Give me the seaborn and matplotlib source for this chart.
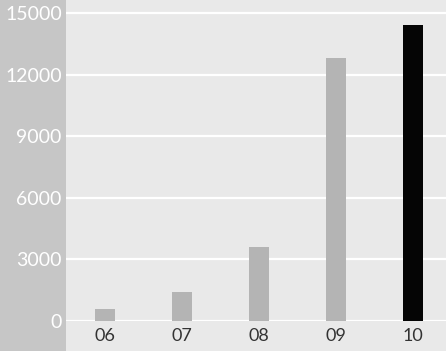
import matplotlib
matplotlib.use("Agg")
import matplotlib.pyplot as plt
import seaborn as sns
import pandas as pd

years = ["06", "07", "08", "09", "10"]
values = [600, 1400, 3600, 12800, 14400]
bar_colors = ["#b4b4b4", "#b4b4b4", "#b4b4b4", "#b4b4b4", "#050505"]
y_ticks = [0, 3000, 6000, 9000, 12000, 15000]

sns.set_theme(style="white")
plt.rcParams["font.family"] = ["Lato", "DejaVu Sans"]

df = pd.DataFrame({"year": years, "value": values})

fig = plt.figure(figsize=(4.46, 3.51), dpi=100, facecolor="#e9e9e9")

# darker strip behind the value axis
strip = plt.Rectangle((0, 0), 66 / 446, 1, transform=fig.transFigure,
                      facecolor="#c6c6c6", edgecolor="none", zorder=-5)
fig.patches.append(strip)

ax = fig.add_axes([66 / 446, 30 / 351, 380 / 446, 321 / 351])
ax.set_facecolor("none")
ax.set_zorder(1)

sns.barplot(data=df, x="year", y="value", hue="year", palette=bar_colors,
            width=0.26, legend=False, ax=ax, saturation=1, linewidth=0)

ax.set_ylim(0, 15633)
ax.set_xlim(-0.5, 4.43)
ax.set_yticks(y_ticks)
ax.set_yticklabels([str(v) for v in y_ticks], color="white", fontsize=14)
ax.tick_params(axis="y", length=0, pad=3)
ax.tick_params(axis="x", length=0, pad=5, labelsize=13, labelcolor="#333333")
ax.grid(axis="y", color="white", linewidth=1.6, zorder=0)
ax.set_axisbelow(True)
ax.set_xlabel("")
ax.set_ylabel("")
for s in ax.spines.values():
    s.set_visible(False)

fig.savefig("out.png", dpi=100, facecolor=fig.get_facecolor())
